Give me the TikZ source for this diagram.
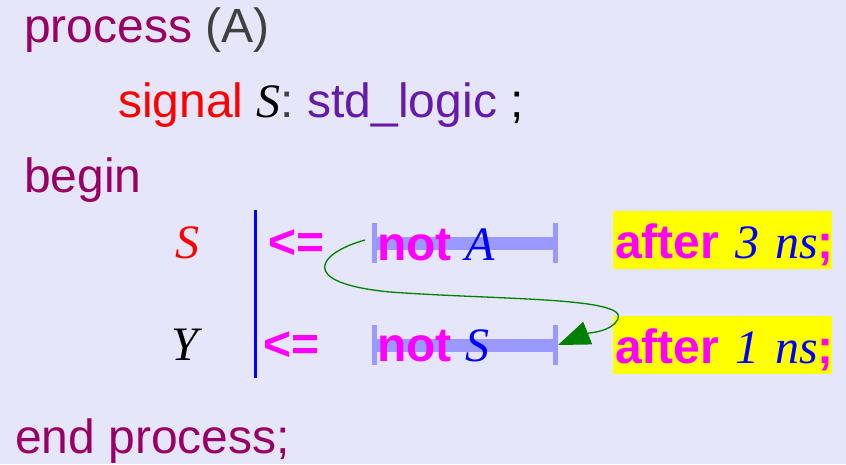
\documentclass[tikz,border=0pt]{standalone}
\usepackage{fontspec}
\setmainfont{Liberation Sans}
\newfontfamily\vserif{Liberation Serif}
\usepackage{xcolor}
\usetikzlibrary{positioning,arrows.meta,calc}
\definecolor{bglav}{RGB}{230,230,250}
\definecolor{kwpurple}{RGB}{153,0,102}
\definecolor{typepurple}{RGB}{102,26,170}
\definecolor{parengray}{RGB}{64,64,64}
\definecolor{barblue}{RGB}{153,153,255}
\definecolor{flowgreen}{RGB}{0,128,0}
\definecolor{opmag}{RGB}{255,0,255}
\definecolor{varblue}{RGB}{0,0,255}
\definecolor{boxyellow}{RGB}{255,255,0}
\newcommand{\ivar}[1]{{\vserif\mdseries\itshape #1}}
\tikzset{
code/.style={anchor=base west, inner sep=0pt, font=\fontsize{48}{56}\selectfont},
op/.style={code, text=opmag, font=\fontsize{48}{56}\selectfont\bfseries},
delay/.style={draw=barblue, line width=13pt},
tick/.style={draw=barblue, line width=5pt},
afterbox/.style={code, fill=boxyellow, inner xsep=2pt, inner ysep=2pt, text height=45pt, text depth=9pt, text width=215pt, align=left},
flow/.style={draw=flowgreen, line width=1.3pt, -{Triangle[length=32pt,width=24pt]}}
}

\begin{document}
\begin{tikzpicture}[x=1pt,y=-1pt]
	\useasboundingbox (0,0) rectangle (846,464);
	\fill[bglav] (0,0) rectangle (846,464);

	\node[code,text=kwpurple] (proc) at (24,42) {process \textcolor{parengray}{(A)}};
	\node[code,text=red] (sig) at (118,117) {signal \textcolor{black}{\ivar{S}}\textcolor{parengray}{:} \textcolor{typepurple}{std\_logic} \textcolor{black}{;}};
	\node[code,text=kwpurple] (beg) at (24,192) {begin};
	\node[code,text=kwpurple] (endp) at (15,453) {end process;};

	% delay bars
	\coordinate (barA-l) at (374,243);
	\coordinate (barA-r) at (555,243);
	\coordinate (barS-l) at (374,345);
	\coordinate (barS-r) at (555,345);
	\draw[delay] (barA-l) -- (barA-r);
	\draw[delay] (barS-l) -- (barS-r);
	\foreach \b in {barA-l,barA-r,barS-l,barS-r}
		\draw[tick] ([yshift=20pt]\b) -- ([yshift=-20pt]\b);

	\draw[varblue, line width=3pt] (255,210) -- (255,378);

	\node[code,text=red] (lhsS) at (175,258) {\ivar{S}};
	\node[code] (lhsY) at (171,360) {\ivar{Y}};
	\node[op] (asgS) at (268,258) {<=};
	\node[op] (asgY) at (263,360) {<=};
	\node[op] (exprA) at (377,260) {not \textcolor{varblue}{\ivar{A}}};
	\node[op] (exprS) at (377,361) {not \textcolor{varblue}{\ivar{S}}};

	\node[afterbox] (dlyA) at (613,258) {\mbox{\textcolor{opmag}{\bfseries after} \textcolor{varblue}{\ivar{3 ns}}\textcolor{opmag}{\bfseries ;}}};
	\node[afterbox] (dlyS) at (613,363) {\mbox{\textcolor{opmag}{\bfseries after} \textcolor{varblue}{\ivar{1 ns}}\textcolor{opmag}{\bfseries ;}}};

	\coordinate (tail) at (365,240);
	\draw[flow] (tail) .. controls (318,253) and (296,283) .. (390,292)
		.. controls (500,300) and (628,297) .. (618,319)
		.. controls (612,332) and (588,333) .. ([xshift=3pt]barS-r);
\end{tikzpicture}
\end{document}
